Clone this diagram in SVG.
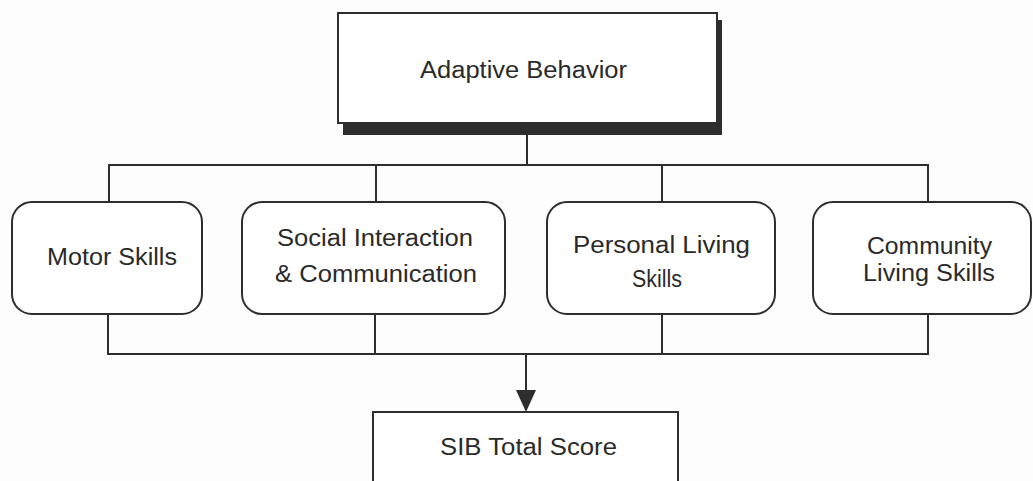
<svg xmlns="http://www.w3.org/2000/svg" width="1033" height="481" viewBox="0 0 1033 481">
  <style>
    .box { fill: #ffffff; stroke: #2e2e2e; stroke-width: 2; }
    .shadow { fill: #2e2e2e; }
    .wire { fill: none; stroke: #2e2e2e; stroke-width: 2; }
    .label { font-family: "Liberation Sans", Arial, sans-serif; font-size: 23px; fill: #2a2a2a; text-anchor: middle; }
  </style>
  <rect width="1033" height="481" fill="#fdfdfd"/>

  <!-- connectors -->
  <g id="connectors">
    <!-- fan-out from Adaptive Behavior -->
    <path class="wire" d="M527,134 V165"/>
    <path class="wire" d="M109,202 V165 H928 V202"/>
    <path class="wire" d="M376,165 V202"/>
    <path class="wire" d="M662,165 V202"/>
    <!-- fan-in to SIB Total Score -->
    <path class="wire" d="M108,314 V354 H928 V314"/>
    <path class="wire" d="M375,314 V354"/>
    <path class="wire" d="M662,314 V354"/>
    <line x1="526" y1="354" x2="526" y2="390" stroke="#2e2e2e" stroke-width="2"/>
    <path d="M516,390 L536,390 L526,412 Z" fill="#2e2e2e"/>
  </g>

  <!-- top node with drop shadow -->
  <g id="adaptive-behavior">
    <rect class="shadow" x="343" y="20" width="379" height="115"/>
    <rect class="box" x="338" y="13" width="379" height="110"/>
    <text class="label" x="523.5" y="78" textLength="207" lengthAdjust="spacingAndGlyphs">Adaptive Behavior</text>
  </g>

  <g id="motor-skills">
    <rect class="box" x="12" y="202" width="190" height="112" rx="20" ry="20"/>
    <text class="label" x="112" y="265" textLength="130" lengthAdjust="spacingAndGlyphs">Motor Skills</text>
  </g>

  <g id="social-interaction">
    <rect class="box" x="242" y="202" width="263" height="112" rx="20" ry="20"/>
    <text class="label" x="375" y="246" textLength="196" lengthAdjust="spacingAndGlyphs">Social Interaction</text>
    <text class="label" x="376" y="282" textLength="202" lengthAdjust="spacingAndGlyphs">&amp; Communication</text>
  </g>

  <g id="personal-living">
    <rect class="box" x="547" y="202" width="228" height="112" rx="20" ry="20"/>
    <text class="label" x="661.5" y="253" textLength="177" lengthAdjust="spacingAndGlyphs">Personal Living</text>
    <text class="label" x="657" y="287" textLength="50" lengthAdjust="spacingAndGlyphs">Skills</text>
  </g>

  <g id="community-living">
    <rect class="box" x="813" y="202" width="218" height="112" rx="20" ry="20"/>
    <text class="label" x="929.5" y="254" textLength="125" lengthAdjust="spacingAndGlyphs">Community</text>
    <text class="label" x="929" y="281" textLength="132" lengthAdjust="spacingAndGlyphs">Living Skills</text>
  </g>

  <g id="sib-total-score">
    <rect class="box" x="373" y="412" width="305" height="80"/>
    <text class="label" x="528.5" y="455" textLength="177" lengthAdjust="spacingAndGlyphs">SIB Total Score</text>
  </g>
</svg>
